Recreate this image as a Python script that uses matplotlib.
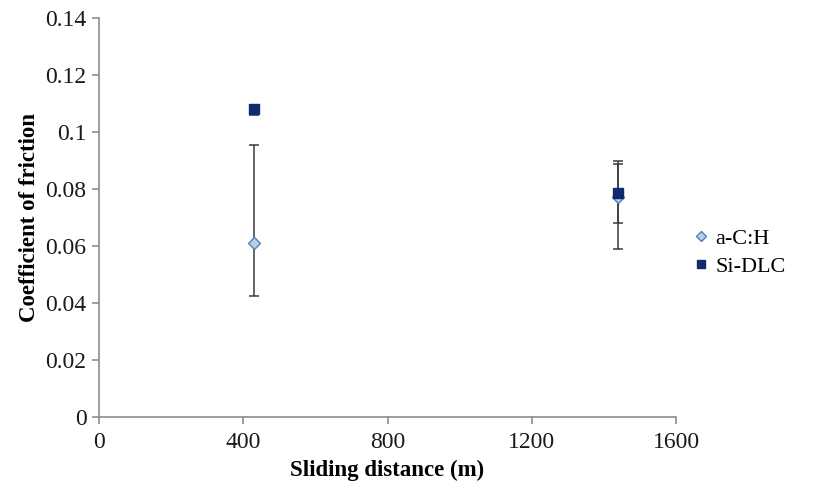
import numpy as np
import matplotlib.pyplot as plt

# datos
distance = [430, 1440]
ach_cof = [0.0612, 0.0772]
ach_err_low = [0.0187, 0.0182]
ach_err_high = [0.0342, 0.0116]
sidlc_cof = [0.1080, 0.0787]
sidlc_err_low = [0.0020, 0.0108]
sidlc_err_high = [0.0010, 0.0111]

plt.rcParams['font.family'] = ['Liberation Serif', 'DejaVu Serif']

fig = plt.figure(figsize=(8.15, 4.95), dpi=100)
ax = fig.add_axes([0.1215, 0.1576, 0.708, 0.806])

axis_gray = '#8c8c8c'

# barras de error
ax.errorbar(distance, ach_cof, yerr=[ach_err_low, ach_err_high], fmt='none',
            ecolor='#3a3a3a', elinewidth=1.1, capsize=3.5, capthick=1.1, zorder=2)
ax.errorbar(distance, sidlc_cof, yerr=[sidlc_err_low, sidlc_err_high], fmt='none',
            ecolor='#3a3a3a', elinewidth=1.1, capsize=3.5, capthick=1.1, zorder=2)

# marcadores
ax.plot(distance, ach_cof, linestyle='none', marker='D', markersize=6.5,
        markerfacecolor='#b9cde5', markeredgecolor='#4f81bd', markeredgewidth=1,
        label='a-C:H', zorder=3)
ax.plot(distance, sidlc_cof, linestyle='none', marker='s', markersize=6.5,
        markerfacecolor='#0f2a6e', markeredgecolor='#0f2a6e',
        label='Si-DLC', zorder=4)

ax.set_xlim(0, 1600)
ax.set_ylim(0, 0.14)
ax.set_xticks([0, 400, 800, 1200, 1600])
ax.set_yticks(np.arange(0, 0.141, 0.02))
ax.set_yticklabels(['0', '0.02', '0.04', '0.06', '0.08', '0.1', '0.12', '0.14'])

for s in ['top', 'right']:
    ax.spines[s].set_visible(False)
for s in ['left', 'bottom']:
    ax.spines[s].set_color(axis_gray)
    ax.spines[s].set_linewidth(1.2)
ax.tick_params(axis='both', colors=axis_gray, labelcolor='#1a1a1a', labelsize=17,
               length=5, width=1.2, direction='out')
ax.tick_params(axis='x', pad=6)
ax.tick_params(axis='y', pad=4)

ax.set_xlabel('Sliding distance (m)', fontsize=16.5, fontweight='bold', labelpad=5)
ax.set_ylabel('Coefficient of friction', fontsize=16.5, fontweight='bold', labelpad=4)

fig.legend(loc='center left', bbox_to_anchor=(0.826, 0.49), frameon=False,
           fontsize=16, handlelength=0.7, handletextpad=0.3, labelspacing=0.35,
           markerscale=0.85)

plt.savefig('out.png', dpi=100, facecolor='white')
